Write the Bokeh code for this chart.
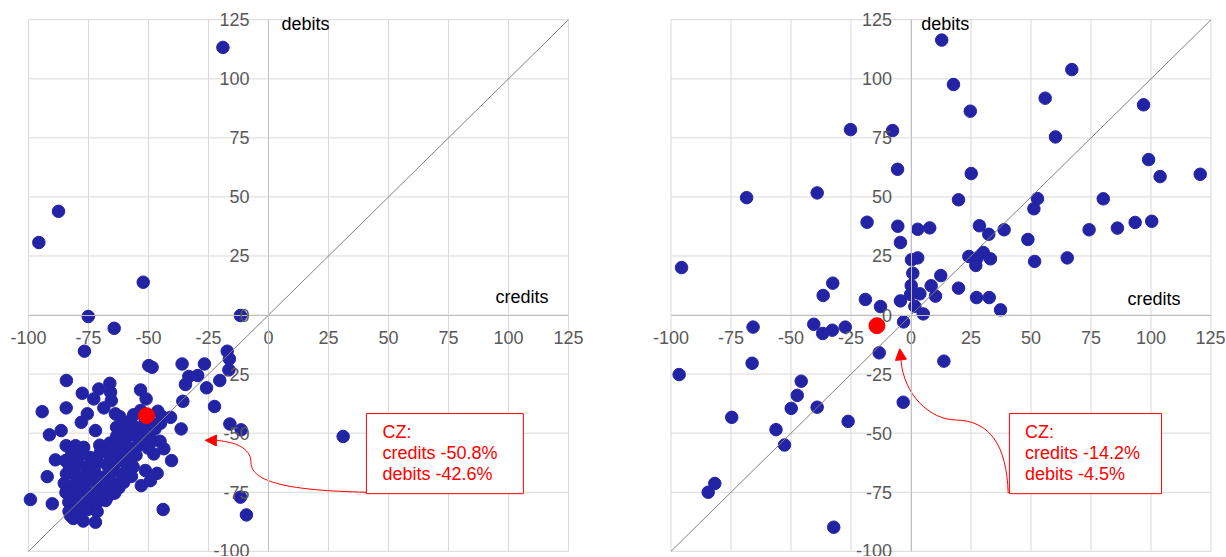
from bokeh.plotting import figure
from bokeh.layouts import row
from bokeh.models import Range1d, FixedTicker, BoxAnnotation, Label, Arrow, NormalHead
from bokeh.embed import file_html
from bokeh.resources import INLINE

TICKS = [-100, -75, -50, -25, 0, 25, 50, 75, 100, 125]
TICK_LABELS = {t: str(t) for t in TICKS}
LO, HI = -100, 125
DIAG = [LO, HI]

# ---- left panel: (credits, debits) change in % ----
left_credits = [
    -19.0, -87.5, -95.7, -52.2, -75.1, -64.3, -11.7, -76.7,
    -49.9, -48.5, -36.0, -26.7, -17.2, -16.3, -16.5, -20.3,
    -33.2, -29.5, -34.6, -25.8, -35.7, -22.5, -16.1, -11.4, -36.4,
    31.1, -11.7, -9.2, -43.9,
    -84.2, -66.1, -70.7, -77.6, -65.8, -72.8, -65.5, -53.3, -51.0,
    -84.3, -94.3, -68.6, -75.5, -63.8, -62.0, -53.3, -46.1, -40.8, -57.5, -78.0, -63.3,
    -72.1, -86.4, -91.3, -45.0, -55.4, -52.6, -50.5, -58.9, -60.3,
    -84.3, -80.4, -77.0, -88.8, -84.6, -92.2, -81.8,
    -67.2, -43.6, -47.8, -40.4, -46.4, -51.3, -49.2, -53.0, -60.3, -67.9, -99.2, -90.1,
    -82.5, -78.3, -72.1,
    -63.2, -59.4, -55.1, -57.3, -53.2, -49.1, -47.3, -44.2, -51.4, -56.2, -60.1, -48.3, -45.2,
    -70.3, -66.1, -62.4, -58.2, -54.3, -50.2,
    -82.1, -78.4, -74.2, -70.1, -66.3, -62.2, -58.4, -55.2,
    -83.3, -79.1, -75.4, -71.2, -67.3, -63.1, -59.2, -56.4,
    -84.2, -80.3, -76.1, -72.4, -68.2, -64.3, -60.4, -57.1,
    -85.1, -81.2, -77.4, -73.1, -69.3, -65.2, -61.1,
    -84.4, -80.1, -76.3, -72.2, -68.4, -64.1, -62.3,
    -83.2, -79.4, -75.1, -71.3, -67.2,
    -83.1, -79.2, -75.3, -71.4,
    -81.3, -77.2,
]
left_debits = [
    113.3, 43.9, 30.7, 13.9, -0.6, -5.6, -0.2, -15.3,
    -21.4, -22.1, -20.7, -20.7, -15.3, -18.6, -23.2, -27.7,
    -26.0, -25.6, -29.4, -30.8, -36.5, -38.7, -46.1, -48.6, -48.2,
    -51.4, -77.1, -84.6, -82.3,
    -27.7, -28.9, -31.3, -33.1, -32.7, -35.5, -36.2, -31.7, -35.5,
    -39.3, -40.9, -39.3, -41.8, -41.8, -43.0, -40.4, -40.7, -43.3, -44.7, -45.4, -47.5,
    -48.9, -48.9, -50.7, -45.8, -47.5, -48.2, -51.7, -50.3, -53.1,
    -55.3, -55.3, -56.0, -61.3, -61.6, -68.4, -66.1,
    -56.0, -56.6, -58.8, -61.6, -67.0, -65.8, -70.1, -72.2, -70.8, -78.5, -78.1, -79.9,
    -84.9, -84.9, -87.7,
    -51.2, -52.1, -51.3, -49.2, -53.1, -45.3, -48.2, -43.1, -44.3, -42.2, -46.1, -53.2, -53.4,
    -55.1, -54.2, -55.3, -56.1, -55.2, -56.3,
    -59.2, -59.1, -60.3, -58.2, -59.4, -58.1, -60.2, -59.3,
    -63.1, -63.2, -64.1, -62.3, -63.4, -62.1, -63.2, -64.3,
    -67.2, -68.1, -67.3, -66.2, -68.4, -66.1, -67.2, -68.3,
    -71.2, -72.1, -71.3, -70.2, -72.4, -71.1, -70.3,
    -75.1, -76.2, -74.1, -75.3, -74.2, -75.4, -73.1,
    -79.2, -80.1, -78.3, -79.1, -77.2,
    -83.1, -82.2, -82.3, -83.2,
    -86.1, -87.2,
]

# ---- right panel ----
right_credits = [
    12.8, 67.0, 17.7, 55.9, 96.9, 24.7, -25.2, -7.7, 60.2, 99.0,
    -5.6, 25.1, 120.5, 103.8, -39.1, -68.5, 52.7, 80.1, 19.8, 51.2,
    100.3, -18.3, 93.4, 28.5, -5.5, 7.8, 86.0, 2.8, 38.8, 74.2,
    32.4, 48.7, -4.4, 30.1, 24.1, 2.8, 27.6, 65.1, 33.1, 0.2,
    51.5, 27.0, -95.6, 0.75, 12.4, -32.6, 0.1, 8.4, 19.8, 3.7,
    -0.2, -36.6, 10.2, 27.3, 32.6, -19.0, -4.4, 1.6, -12.7, 37.3,
    5.1, -3.1, -40.5, -65.8, -27.4, -32.8, -36.8, -13.25, 13.7, -66.2,
    -96.6, -45.75, -47.4, -3.25, -39.1, -49.9, -74.7, -26.2, -56.25, -52.7,
    -81.75, -84.5, -32.2,
]
right_debits = [
    116.4, 103.9, 97.6, 91.8, 89.0, 86.3, 78.5, 78.1, 75.4, 65.8,
    61.7, 59.9, 59.6, 58.6, 51.7, 49.7, 49.3, 49.2, 48.8, 45.0,
    39.7, 39.3, 39.2, 37.8, 37.6, 36.9, 36.8, 36.3, 36.1, 36.1,
    34.2, 32.0, 30.7, 26.5, 24.8, 24.2, 24.2, 24.2, 23.8, 23.4,
    22.7, 21.0, 20.1, 17.7, 16.7, 13.5, 12.5, 12.4, 11.4, 9.0,
    8.7, 8.3, 8.0, 7.4, 7.4, 6.6, 6.0, 3.7, 3.6, 2.2,
    0.5, -2.9, -3.9, -5.1, -5.1, -6.4, -7.8, -16.0, -19.5, -20.4,
    -25.2, -28.0, -34.0, -36.9, -39.0, -39.5, -43.3, -45.0, -48.5, -55.0,
    -71.3, -75.0, -89.8,
]

cz_left = (-50.8, -42.6)
cz_right = (-14.2, -4.5)
cz_left_text = ["CZ:", "credits -50.8%", "debits -42.6%"]
cz_right_text = ["CZ:", "credits -14.2%", "debits -4.5%"]

# annotation geometry (data units)
box_left = dict(left=40.8, right=106.2, top=-41.7, bottom=-75.6)
box_right = dict(left=41.0, right=104.4, top=-41.7, bottom=-75.6)
curve_left = dict(x0=[40.8, -7.3], y0=[-75.0, -62.4], x1=[-7.3, -21.2], y1=[-62.4, -53.1],
                  cx0=[9.2, -7.3], cy0=[-74.3, -57.4], cx1=[-7.3, -11.7], cy1=[-70.9, -54.0])
head_left = dict(x_start=-21.2, y_start=-53.1, x_end=-26.3, y_end=-53.0)
curve_right = dict(x0=[40.5, 18.5], y0=[-75.4, -44.4], x1=[18.5, -4.2], y1=[-44.4, -18.8],
                   cx0=[39.8, 8.1], cy0=[-55.2, -44.2], cx1=[33.1, -3.1], cy1=[-44.7, -34.1])
head_right = dict(x_start=-4.2, y_start=-18.8, x_end=-4.7, y_end=-14.3)

FONT = "Liberation Sans"
BLUE = "#2323A6"
RED = "#FF0000"
GRID = "#d9d9d9"


def make_fig(xs, ys, cz, cz_text, box, curve, head, debits_x, credits_xy, xr, width):
    # ranges are padded around [-100, 125] so the tick labels outside the grid box stay visible
    p = figure(x_range=Range1d(*xr), y_range=Range1d(-102.2, 133.15),
               frame_width=width, frame_height=556,
               min_border_left=0, min_border_right=0, min_border_top=0, min_border_bottom=0,
               output_backend="svg", toolbar_location=None)
    p.outline_line_color = None
    p.background_fill_color = "white"
    p.border_fill_color = "white"
    p.xgrid.visible = False
    p.ygrid.visible = False

    # grid box limited to [-100, 125] in both directions
    n = len(TICKS)
    p.segment(x0=TICKS, y0=[LO] * n, x1=TICKS, y1=[HI] * n, line_color=GRID, line_width=1)
    p.segment(x0=[LO] * n, y0=TICKS, x1=[HI] * n, y1=TICKS, line_color=GRID, line_width=1)

    for ax in (p.xaxis[0], p.yaxis[0]):
        ax.fixed_location = 0
        ax.bounds = (LO, HI)
        ax.ticker = FixedTicker(ticks=TICKS)
        ax.major_label_overrides = TICK_LABELS
        ax.major_tick_in = 0
        ax.major_tick_out = 0
        ax.minor_tick_in = 0
        ax.minor_tick_out = 0
        ax.axis_line_color = "#bfbfbf"
        ax.axis_line_width = 1
        ax.major_label_text_font = FONT
        ax.major_label_text_font_size = "18px"
        ax.major_label_text_color = "#595959"
    p.xaxis.major_label_standoff = 16
    p.yaxis.major_label_standoff = 19

    p.scatter(xs, ys, size=12.5, fill_color=BLUE, line_color=BLUE)
    p.line(DIAG, DIAG, line_color="#808080", line_width=1)
    p.scatter([cz[0]], [cz[1]], size=16, fill_color=RED, line_color=RED)

    p.bezier(line_color=RED, line_width=1, **curve)
    p.add_layout(Arrow(end=NormalHead(size=11, fill_color=RED, line_color=RED, line_width=1),
                       line_color=RED, line_width=1, **head))

    p.add_layout(BoxAnnotation(fill_color="white", fill_alpha=1.0, line_color=RED,
                               line_width=1, line_alpha=1.0, **box))
    for txt, yy in zip(cz_text, [-49.4, -58.4, -67.1]):
        p.add_layout(Label(x=47.5, y=yy, text=txt, text_font=FONT, text_font_size="18px",
                           text_color=RED, text_baseline="middle", text_align="left"))

    p.add_layout(Label(x=debits_x, y=123.4, text="debits", text_font=FONT, text_font_size="18px",
                       text_color="black", text_baseline="middle", text_align="left"))
    p.add_layout(Label(x=credits_xy[0], y=credits_xy[1], text="credits", text_font=FONT,
                       text_font_size="18px", text_color="black", text_baseline="middle",
                       text_align="left"))
    return p


p1 = make_fig(left_credits, left_debits, cz_left, cz_left_text, box_left, curve_left, head_left,
              5.4, (94.6, 7.8), (-111.667, 151.25), 631)
p2 = make_fig(right_credits, right_debits, cz_right, cz_right_text, box_right, curve_right, head_right,
              4.3, (90.2, 7.0), (-116.46, 131.04), 594)

layout = row(p1, p2)
open("out.html", "w").write(file_html(layout, INLINE))
